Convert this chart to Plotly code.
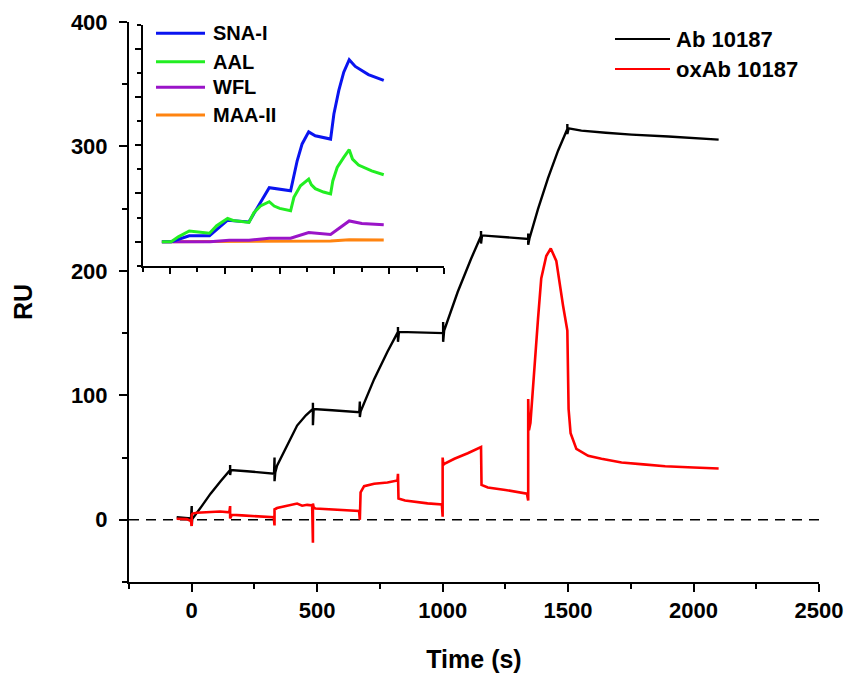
import plotly.graph_objects as go

# main sensorgram, Ab 10187 (black)
ab_t = [-60, -30, -3, 0, 0, 2, 40, 75, 115, 153, 153, 153, 156, 220, 280, 328,
        330, 330, 333, 340, 380, 420, 455, 483, 483, 483, 486, 560, 620, 668,
        670, 670, 673, 727, 780, 822, 822, 822, 826, 900, 960, 1002, 1002, 1002,
        1006, 1060, 1113, 1153, 1153, 1153, 1157, 1250, 1341, 1341, 1341, 1346,
        1380, 1420, 1460, 1497, 1497, 1497, 1502, 1553, 1650, 1753, 1900, 2000, 2100]
ab_ru = [2, 1.5, 1, 11, -5, 0.5, 11, 21, 31, 40, 44, 36, 40, 39, 38, 37,
         50, 31, 38, 43.5, 60, 75.7, 84, 89, 94, 76, 89, 88, 87.3, 86.5,
         95, 82.5, 87, 113, 135, 151, 155, 143, 151, 150.5, 150, 150, 159, 143,
         152, 183, 209.6, 228, 232, 222, 228.5, 227, 225.7, 230, 221, 226,
         249.6, 274.5, 296.6, 314, 318, 310, 314.5, 312.7, 311, 309.5, 308, 307, 305.5]

# oxidised antibody (red)
ox_t = [-60, -20, -3, 0, 0, 3, 20, 60, 113, 150, 153, 153, 160, 200, 260, 327,
        330, 330, 333, 340, 380, 420, 440, 460, 480, 483, 483, 486, 493, 540,
        580, 630, 667, 670, 670, 673, 687, 727, 780, 820, 822, 824, 850, 887,
        940, 997, 1000, 1000, 1003, 1007, 1047, 1100, 1153, 1155, 1160, 1180,
        1250, 1336, 1341, 1341, 1344, 1350, 1367, 1380, 1393, 1413, 1431, 1453,
        1480, 1493, 1497, 1502, 1510, 1533, 1580, 1633, 1713, 1800, 1887, 2000, 2100]
ox_ru = [0.8, 0.5, -1, -5, 4, 5, 5.6, 6, 6.7, 6, 11, 1, 4, 3.5, 2.8, 2.1,
         -4.6, 9, 8.5, 9.4, 11.5, 13, 11.3, 12, 11.5, -18.5, 13, 9.9, 9, 8.3,
         7.7, 7.3, 7, 0, 18, 22, 27, 29, 30, 31.6, 37, 17, 15.5, 14.5,
         13.2, 12.3, 2.4, 50, 44, 45, 49, 53.5, 58.4, 28, 27.6, 26,
         24, 21, 15.5, 97, 72, 78, 130, 161, 194, 212, 218, 208,
         172, 155, 152, 89, 69.5, 57, 51.4, 49, 46, 44.5, 43, 42, 41.2]

# inset lectin curves (arbitrary units)
sna_x = [-15, 2, 35, 72, 105, 144, 181, 220, 232, 241, 253, 265, 293, 299, 308, 317, 327, 338, 362, 390]
sna_y = [0, 0, 12, 12, 44.5, 41, 112, 105.6, 168, 203, 228, 220, 213, 265, 314, 352, 378, 364, 347, 335]
aal_x = [-15, 2, 15, 35, 72, 85, 105, 115, 144, 153, 165, 181, 190, 200, 220, 226, 238, 253,
         258, 265, 280, 293, 297, 305, 317, 327, 333, 344, 368, 390]
aal_y = [0, 0, 10, 22, 17.5, 33, 48, 44, 40, 60, 74, 83, 74, 69, 64, 92, 116, 130,
         118, 110, 103, 99, 126, 154, 175, 191, 171.5, 159, 147, 139]
wfl_x = [-15, 2, 73, 108, 144, 181, 220, 253, 293, 327, 350, 390]
wfl_y = [0, 0, 0, 3, 3, 7, 7, 19, 15, 43, 37.5, 35]
maa_x = [-15, 2, 144, 220, 293, 327, 390]
maa_y = [0, 0, 0, 1, 1.5, 4, 3.5]

main_names = ["Ab 10187", "oxAb 10187"]
inset_names = ["SNA-I", "AAL", "WFL", "MAA-II"]

FONT = "Liberation Sans, Arial, sans-serif"
BLUE, GREEN, PURPLE, ORANGE = "#0A14F0", "#22EE22", "#9A14C8", "#FF8410"

fig = go.Figure()

fig.add_trace(go.Scatter(x=ab_t, y=ab_ru, mode="lines", name=main_names[0],
                         line=dict(color="black", width=2.4), showlegend=False))
fig.add_trace(go.Scatter(x=ox_t, y=ox_ru, mode="lines", name=main_names[1],
                         line=dict(color="#FF0000", width=2.6), showlegend=False))

# inset traces, drawn bottom to top
for xs, ys, nm, col in [(maa_x, maa_y, "MAA-II", ORANGE), (wfl_x, wfl_y, "WFL", PURPLE),
                        (sna_x, sna_y, "SNA-I", BLUE), (aal_x, aal_y, "AAL", GREEN)]:
    fig.add_trace(go.Scatter(x=xs, y=ys, mode="lines", name=nm, xaxis="x2", yaxis="y2",
                             line=dict(color=col, width=3), showlegend=False))

# dashed baseline
fig.add_shape(type="line", xref="x domain", yref="y", x0=0, x1=1, y0=0, y1=0,
              line=dict(color="black", width=1.6, dash="10px,7px"), layer="below")


# pixel -> paper helpers for the hand drawn legends
# (plot area sits at 129..819 x 22..582)
def px(x):
    return (x - 129) / 690


def py(y):
    return (582 - y) / 560


for i, (nm, col) in enumerate(zip(main_names, ["black", "#FF0000"])):
    yy = py(39 + 30 * i)
    fig.add_shape(type="line", xref="paper", yref="paper", x0=px(615), x1=px(670), y0=yy, y1=yy,
                  line=dict(color=col, width=2.2))
    fig.add_annotation(text=nm, xref="paper", yref="paper", x=px(674), y=yy, xanchor="left",
                       yanchor="middle", showarrow=False,
                       font=dict(family=FONT, size=22, color="black", weight="bold"))

for nm, col, yrow in zip(inset_names, [BLUE, GREEN, PURPLE, ORANGE], [33.3, 61.7, 87.3, 115]):
    yy = py(yrow)
    fig.add_shape(type="line", xref="paper", yref="paper", x0=px(156), x1=px(205), y0=yy, y1=yy,
                  line=dict(color=col, width=3))
    fig.add_annotation(text=nm, xref="paper", yref="paper", x=px(210.5), y=yy, xanchor="left",
                       yanchor="middle", showarrow=False,
                       font=dict(family=FONT, size=20, color="black", weight="bold"))

axis_common = dict(showline=True, linecolor="black", linewidth=2, showgrid=False, zeroline=False,
                   ticks="outside", tickcolor="black", tickwidth=2, mirror=False, automargin=False)

fig.update_layout(
    width=847, height=673,
    margin=dict(l=129, r=28, t=22, b=91),
    paper_bgcolor="white", plot_bgcolor="rgba(0,0,0,0)",
    font=dict(family=FONT, color="black"),
    xaxis=dict(range=[-250, 2500], dtick=500, tick0=0, ticklen=8,
               minor=dict(dtick=250, tick0=0, ticklen=5, ticks="outside", tickwidth=2, tickcolor="black"),
               tickfont=dict(family=FONT, size=22, weight="bold"),
               title=dict(text="Time (s)", font=dict(family=FONT, size=25, weight="bold"), standoff=40),
               **axis_common),
    yaxis=dict(range=[-50, 400], dtick=100, tick0=0, ticklen=8, ticklabelstandoff=7,
               minor=dict(dtick=50, tick0=0, ticklen=5, ticks="outside", tickwidth=2, tickcolor="black"),
               tickfont=dict(family=FONT, size=22, weight="bold"),
               title=dict(text="RU", font=dict(family=FONT, size=25, weight="bold"), standoff=31),
               **axis_common),
    xaxis2=dict(domain=[px(142.7), px(444)], anchor="y2", range=[-50, 500], dtick=100, tick0=0,
                ticklen=6, showticklabels=False,
                minor=dict(dtick=50, tick0=0, ticklen=4, ticks="outside", tickwidth=2, tickcolor="black"),
                **axis_common),
    yaxis2=dict(domain=[py(265.7), py(25)], anchor="x2", range=[-50, 450], dtick=100, tick0=0,
                ticklen=6, showticklabels=False,
                minor=dict(dtick=50, tick0=0, ticklen=4, ticks="outside", tickwidth=2, tickcolor="black"),
                **axis_common),
)

# drop the default page margin so the figure fills the window exactly
fig.write_html("out.html", config={"displayModeBar": False},
               post_script="document.body.style.margin='0';document.body.style.overflow='hidden';")
